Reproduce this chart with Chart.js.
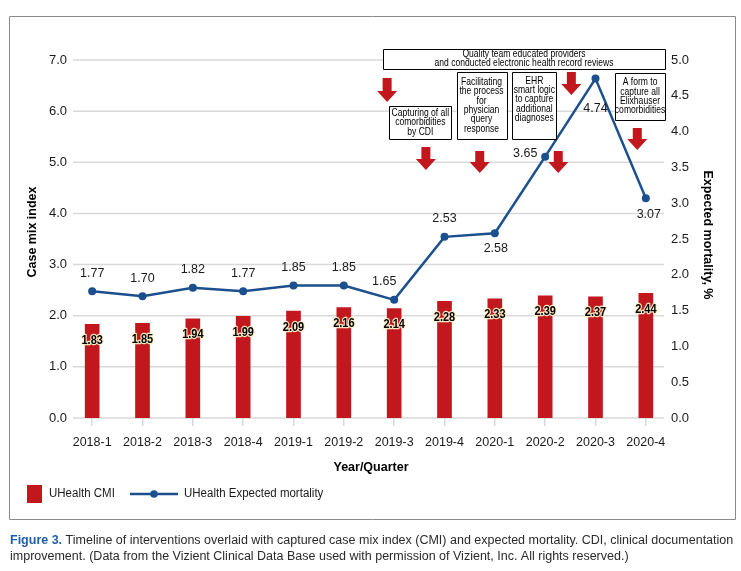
<!DOCTYPE html>
<html>
<head>
<meta charset="utf-8">
<script src="https://cdn.jsdelivr.net/npm/chart.js@4.4.1/dist/chart.umd.min.js"></script>
<style>
  html, body { margin: 0; padding: 0; background: #fff; }
  #wrap { position: relative; width: 741px; height: 571px; }
</style>
</head>
<body>
<div id="wrap"><canvas id="c"></canvas></div>
<script>
// ---- data ----
const categories = ['2018-1','2018-2','2018-3','2018-4','2019-1','2019-2','2019-3','2019-4','2020-1','2020-2','2020-3','2020-4'];
const cmiValues = [1.83, 1.85, 1.94, 1.99, 2.09, 2.16, 2.14, 2.28, 2.33, 2.39, 2.37, 2.44];
const mortalityValues = [1.77, 1.70, 1.82, 1.77, 1.85, 1.85, 1.65, 2.53, 2.58, 3.65, 4.74, 3.07];
const cmiAxis = { min: 0, max: 7, step: 1 };
const mortalityAxis = { min: 0, max: 5, step: 0.5 };
const seriesNames = ['UHealth CMI', 'UHealth Expected mortality'];
const axisTitles = { x: 'Year/Quarter', yLeft: 'Case mix index', yRight: 'Expected mortality, %' };
const captionBold = 'Figure 3.';
const captionLine1 = ' Timeline of interventions overlaid with captured case mix index (CMI) and expected mortality. CDI, clinical documentation';
const captionLine2 = 'improvement. (Data from the Vizient Clinical Data Base used with permission of Vizient, Inc. All rights reserved.)';

// intervention notes (text)
const noteTexts = [
  ['Quality team educated providers', 'and conducted electronic health record reviews'],
  ['Capturing of all', 'comorbidities', 'by CDI'],
  ['Facilitating', 'the process', 'for', 'physician', 'query', 'response'],
  ['EHR', 'smart logic', 'to capture', 'additional', 'diagnoses'],
  ['A form to', 'capture all', 'Elixhauser', 'comorbidities']
];

// ---- layout / style (not data) ----
const RED = '#c1171d';
const BLUE = '#1c4f8e';
const FONT = "'Liberation Sans Narrow', 'Arial Narrow', 'Liberation Sans', Arial, sans-serif";
const GRID = '#d9d9d9';
// note boxes: category index range and left-axis value range
const noteBoxes = [
  { i0: 5.78, i1: 11.38, v0: 7.215, v1: 6.824, valign: 'middle' },
  { i0: 5.90, i1: 7.14,  v0: 6.10,  v1: 5.455, valign: 'middle' },
  { i0: 7.24, i1: 8.23,  v0: 6.765, v1: 5.455, valign: 'middle' },
  { i0: 8.35, i1: 9.22,  v0: 6.765, v1: 5.455, valign: 'top' },
  { i0: 10.39, i1: 11.38, v0: 6.746, v1: 5.827, valign: 'middle' }
];
const arrowsPos = [
  { i: 5.86, v0: 6.648, v1: 6.179 },
  { i: 6.63, v0: 5.299, v1: 4.849 },
  { i: 7.70, v0: 5.221, v1: 4.791 },
  { i: 9.26, v0: 5.221, v1: 4.791 },
  { i: 9.52, v0: 6.765, v1: 6.316 },
  { i: 10.83, v0: 5.670, v1: 5.240 }
];
// line value label offsets (px) relative to the point
const lineLabelOffsets = [
  [0,-18],[0,-18],[0,-18],[0,-18],[0,-18],[0,-18],[-10,-18],[0,-18],[1,15],[-20,-3],[0,30],[3,16]
];

function squash(ctx, text, x, y, sx) {
  ctx.save();
  ctx.translate(x, y);
  ctx.scale(sx, 1);
  ctx.fillText(text, 0, 0);
  ctx.restore();
}

const annotationPlugin = {
  id: 'extras',
  beforeDatasetsDraw(chart) {
    const ctx = chart.ctx, yl = chart.scales.y, ca = chart.chartArea;
    ctx.save();
    ctx.strokeStyle = GRID;
    ctx.lineWidth = 1.5;
    yl.ticks.forEach(t => {
      const y = yl.getPixelForValue(t.value);
      ctx.beginPath();
      ctx.moveTo(ca.left + 6, y);
      ctx.lineTo(ca.right - 7, y);
      ctx.stroke();
    });
    ctx.restore();
  },
  afterDraw(chart) {
    const ctx = chart.ctx;
    const xs = chart.scales.x, yl = chart.scales.y;
    const ca = chart.chartArea;
    const step = xs.getPixelForValue(1) - xs.getPixelForValue(0);
    const px = i => xs.getPixelForValue(0) + i * step;
    ctx.save();

    // bar value labels
    const barMeta = chart.getDatasetMeta(0);
    ctx.font = 'bold 12.5px ' + FONT;
    ctx.textAlign = 'center';
    ctx.textBaseline = 'middle';
    ctx.lineJoin = 'round';
    barMeta.data.forEach((bar, k) => {
      const t = cmiValues[k].toFixed(2);
      const y = bar.y + 16;
      ctx.save();
      ctx.translate(bar.x, y);
      ctx.scale(0.88, 1);
      ctx.lineWidth = 2.5;
      ctx.strokeStyle = 'rgba(255,240,200,0.95)';
      ctx.strokeText(t, 0, 0);
      ctx.fillStyle = '#000';
      ctx.fillText(t, 0, 0);
      ctx.restore();
    });

    // line value labels
    const lineMeta = chart.getDatasetMeta(1);
    ctx.font = '12.5px ' + FONT;
    ctx.fillStyle = '#1a1a1a';
    lineMeta.data.forEach((pt, k) => {
      const o = lineLabelOffsets[k];
      ctx.fillText(mortalityValues[k].toFixed(2), pt.x + o[0], pt.y + o[1]);
    });

    // arrows
    ctx.fillStyle = RED;
    arrowsPos.forEach(a => {
      const cx = px(a.i), top = yl.getPixelForValue(a.v0), bot = yl.getPixelForValue(a.v1);
      const hw = 10, sw = 4.5, hh = 11;
      ctx.beginPath();
      ctx.moveTo(cx - sw, top);
      ctx.lineTo(cx + sw, top);
      ctx.lineTo(cx + sw, bot - hh);
      ctx.lineTo(cx + hw, bot - hh);
      ctx.lineTo(cx, bot);
      ctx.lineTo(cx - hw, bot - hh);
      ctx.lineTo(cx - sw, bot - hh);
      ctx.closePath();
      ctx.fill();
    });

    // note boxes
    ctx.font = '10.2px ' + FONT;
    noteBoxes.forEach((b, k) => {
      const x0 = px(b.i0), x1 = px(b.i1), y0 = yl.getPixelForValue(b.v0), y1 = yl.getPixelForValue(b.v1);
      ctx.fillStyle = '#fff';
      ctx.fillRect(x0, y0, x1 - x0, y1 - y0);
      ctx.lineWidth = 1;
      ctx.strokeStyle = '#000';
      ctx.strokeRect(Math.round(x0) + 0.5, Math.round(y0) + 0.5, Math.round(x1 - x0), Math.round(y1 - y0));
      const lines = noteTexts[k];
      const lh = 9.3;
      let first;
      if (b.valign === 'top') first = y0 + 9;
      else first = (y0 + y1) / 2 - (lines.length - 1) * lh / 2;
      ctx.fillStyle = '#000';
      lines.forEach((ln, j) => squash(ctx, ln, (x0 + x1) / 2, first + j * lh, 0.84));
    });

    // axis titles
    ctx.font = 'bold 12.5px ' + FONT;
    ctx.fillStyle = '#000';
    ctx.fillText(axisTitles.x, (ca.left + ca.right) / 2 + 2, 468);
    ctx.save();
    ctx.translate(33, 232);
    ctx.rotate(-Math.PI / 2);
    ctx.fillText(axisTitles.yLeft, 0, 0);
    ctx.restore();
    ctx.save();
    ctx.translate(707, 235);
    ctx.rotate(Math.PI / 2);
    ctx.fillText(axisTitles.yRight, 0, 0);
    ctx.restore();

    // legend
    ctx.fillStyle = RED;
    ctx.fillRect(27, 485, 15, 18);
    ctx.font = '12.5px ' + FONT;
    ctx.textAlign = 'left';
    ctx.fillStyle = '#1a1a1a';
    squash(ctx, seriesNames[0], 49, 494, 0.92);
    ctx.strokeStyle = BLUE;
    ctx.lineWidth = 2.5;
    ctx.beginPath(); ctx.moveTo(130, 494); ctx.lineTo(178, 494); ctx.stroke();
    ctx.fillStyle = BLUE;
    ctx.beginPath(); ctx.arc(154, 494, 3.8, 0, Math.PI * 2); ctx.fill();
    ctx.fillStyle = '#1a1a1a';
    squash(ctx, seriesNames[1], 184, 494, 0.92);

    // frame
    ctx.strokeStyle = '#8a8a8a';
    ctx.lineWidth = 1;
    ctx.strokeRect(9.5, 16.5, 726, 503);

    // caption
    ctx.font = 'bold 12.5px ' + FONT;
    ctx.fillStyle = '#1f5fa6';
    ctx.fillText(captionBold, 10, 541);
    const w = ctx.measureText(captionBold).width;
    ctx.font = '12.5px ' + FONT;
    ctx.fillStyle = '#2a2a2a';
    ctx.fillText(captionLine1, 10 + w, 541);
    ctx.fillText(captionLine2, 10, 557);

    ctx.restore();
  }
};

const chart = new Chart(document.getElementById('c'), {
  data: {
    labels: categories,
    datasets: [
      { type: 'bar', label: seriesNames[0], data: cmiValues, backgroundColor: RED, barThickness: 14, yAxisID: 'y', order: 2 },
      { type: 'line', label: seriesNames[1], data: mortalityValues, borderColor: BLUE, backgroundColor: BLUE,
        borderWidth: 2.5, pointRadius: 4, pointBackgroundColor: BLUE, pointBorderWidth: 0, tension: 0, yAxisID: 'y1', order: 1 }
    ]
  },
  options: {
    responsive: true,
    maintainAspectRatio: false,
    animation: false,
    devicePixelRatio: 1,
    layout: { padding: { top: 60, left: 0, right: 0, bottom: 0 } },
    plugins: { legend: { display: false }, tooltip: { enabled: false } },
    scales: {
      x: {
        offset: true,
        grid: { display: true, drawOnChartArea: false, drawTicks: true, tickLength: 8, color: GRID, lineWidth: 1.5, offset: false },
        border: { display: false },
        ticks: { color: '#1a1a1a', font: { family: FONT, size: 12.5 }, padding: 9, maxRotation: 0, autoSkip: false },
        afterFit(s) { s.height = 153; }
      },
      y: {
        position: 'left',
        min: cmiAxis.min, max: cmiAxis.max,
        ticks: { stepSize: cmiAxis.step, padding: 0, color: '#1a1a1a', font: { family: FONT, size: 13 }, callback: v => Number(v).toFixed(1) },
        grid: { display: false, drawTicks: false },
        border: { display: false },
        afterFit(s) { s.width = 67; }
      },
      y1: {
        position: 'right',
        min: mortalityAxis.min, max: mortalityAxis.max,
        ticks: { stepSize: mortalityAxis.step, padding: 0, color: '#1a1a1a', font: { family: FONT, size: 13 }, callback: v => Number(v).toFixed(1) },
        grid: { display: false, drawTicks: false },
        border: { display: false },
        afterFit(s) { s.width = 70; }
      }
    }
  },
  plugins: [annotationPlugin]
});
</script>
</body>
</html>
